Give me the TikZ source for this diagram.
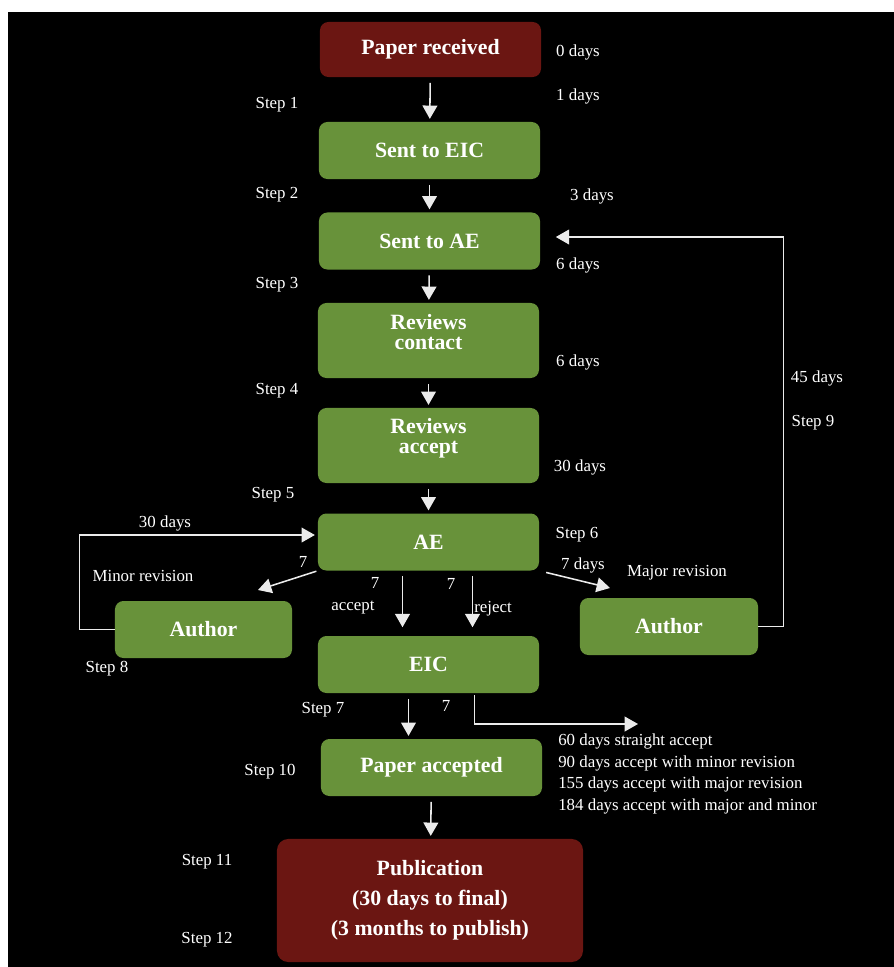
\documentclass[tikz,border=0pt]{standalone}
\usepackage{fontspec}
\setmainfont{Liberation Serif}
\usepackage{tikz}
\usetikzlibrary{positioning}
\usetikzlibrary{arrows.meta}
\usetikzlibrary{calc}
\definecolor{boxgreen}{RGB}{104,146,58}
\definecolor{boxred}{RGB}{107,22,18}

\begin{document}
\begin{tikzpicture}[x=0.025cm, y=-0.025cm,
    greenbox/.style={shape=rectangle, rounded corners=6pt, fill=boxgreen, text=white, inner sep=0pt,
        minimum width=5.525cm, minimum height=1.425cm, align=center,
        font=\fontsize{15.5}{14.5}\selectfont\bfseries},
    redbox/.style={greenbox, fill=boxred},
    lbl/.style={text=white, inner sep=0pt, font=\fontsize{12}{14}\selectfont},
    flow/.style={draw=white!92!black, line width=1.1pt, -{Triangle[length=9.5pt, width=10.5pt]},
        shorten <=4pt, shorten >=2pt}]
    \fill[white] (0,0) rectangle (894,967);
    \fill[black] (8,12) rectangle (894,967);
    \useasboundingbox (0,0) rectangle (894,967);

    % boxes
    \node[redbox, minimum height=1.375cm] (Paper_rec) at (430.5,49.5) {Paper received};
    \node[greenbox] (Sent_EIC) at (429.5,150.5) {Sent to EIC};
    \node[greenbox] (Sent_AE) at (429.5,241) {Sent to AE};
    \node[greenbox, minimum height=1.875cm, text depth=12pt] (Rev_contact) at (428.5,340.5) {Reviews\\contact};
    \node[greenbox, minimum height=1.875cm, text depth=14pt] (Rev_accept) at (428.5,445.5) {Reviews\\accept};
    \node[greenbox] (AE) at (428.5,542) {AE};
    \node[greenbox, minimum width=4.425cm] (Author_L) at (203.5,629.5) {Author};
    \node[greenbox] (EIC) at (428.5,664.5) {EIC};
    \node[greenbox, minimum width=4.45cm] (Author_R) at (669,626.5) {Author};
    \node[greenbox] (Paper_acc) at (431.5,767.5) {Paper accepted};
    \node[redbox, minimum width=7.65cm, minimum height=3.075cm, rounded corners=8pt] (Pub) at (430,900.5)
        {Publication\\[7pt](30 days to final)\\[7pt](3 months to publish)};

    \coordinate (minor_tip) at (258,590);
    \coordinate (major_tip) at (610,588);
    \coordinate (totals) at (638,724);

    % main line
    \draw[flow] (Paper_rec) -- (Sent_EIC);
    \draw[flow] (Sent_EIC) -- (Sent_AE);
    \draw[flow] (Sent_AE) -- (Rev_contact);
    \draw[flow] (Rev_contact) -- (Rev_accept);
    \draw[flow] (Rev_accept) -- (AE);
    \draw[flow, shorten <=1pt, shorten >=0pt] (AE.south west) -- (minor_tip);
    \draw[flow, shorten <=5pt, shorten >=0pt] (AE.south east) -- (major_tip);
    \draw[flow, shorten >=6pt] ($(AE.south)+(-26,0)$) -- ($(EIC.north)+(-26,0)$);
    \draw[flow, shorten >=6pt] ($(AE.south)+(44,0)$) -- ($(EIC.north)+(44,0)$);
    \draw[flow] ($(EIC.south)+(-20,0)$) -- ($(Paper_acc.north)+(-23,0)$);
    \draw[flow, shorten <=1.5pt, shorten >=0pt] ($(EIC.south)+(46,0)$) |- (totals);
    \draw[flow] (Paper_acc) -- (Pub);

    % revision loops
    \draw[flow, shorten <=0pt, shorten >=11pt] (Author_R.east) -- ++(25,0) |- ($(Sent_AE.east)+(0,-4)$);
    \draw[flow, shorten <=0pt, shorten >=2pt] (Author_L.west) -- ++(-35,0) |- ($(AE.west)+(0,-7)$);

    % labels
    \node[lbl] (days0) at (578,52) {0 days};
    \node[lbl] (days1) at (578,96) {1 days};
    \node[lbl] (step1) at (277,105) {Step 1};
    \node[lbl] (step2) at (277,195) {Step 2};
    \node[lbl] (days3) at (592,196) {3 days};
    \node[lbl] (days6a) at (578,265) {6 days};
    \node[lbl] (step3) at (277,285) {Step 3};
    \node[lbl] (days6b) at (578,362) {6 days};
    \node[lbl] (step4) at (277,391) {Step 4};
    \node[lbl] (days45) at (817,378) {45 days};
    \node[lbl] (step9) at (813,423) {Step 9};
    \node[lbl] (days30a) at (580,467) {30 days};
    \node[lbl] (step5) at (273,495) {Step 5};
    \node[lbl] (days30b) at (165,523) {30 days};
    \node[lbl] (step6) at (577,535) {Step 6};
    \node[lbl] (minor7) at (303,562) {7};
    \node[lbl] (minor) at (143,576) {Minor revision};
    \node[lbl] (days7) at (583,565) {7 days};
    \node[lbl] (major) at (677,573) {Major revision};
    \node[lbl] (acc7) at (375,583) {7};
    \node[lbl] (rej7) at (451,584) {7};
    \node[lbl] (accept) at (353,608) {accept};
    \node[lbl] (reject) at (493,609) {reject};
    \node[lbl] (step8) at (107,669) {Step 8};
    \node[lbl] (step7) at (323,710) {Step 7};
    \node[lbl] (eic7) at (446,706) {7};
    \node[lbl] (step10) at (270,772) {Step 10};
    \node[lbl, anchor=west] (tot60) at (558,741) {60 days straight accept};
    \node[lbl, anchor=west] (tot90) at (558,763) {90 days accept with minor revision};
    \node[lbl, anchor=west] (tot155) at (558,784) {155 days accept with major revision};
    \node[lbl, anchor=west] (tot184) at (558,806) {184 days accept with major and minor};
    \node[lbl] (step11) at (207,862) {Step 11};
    \node[lbl] (step12) at (207,940) {Step 12};
\end{tikzpicture}
\end{document}
